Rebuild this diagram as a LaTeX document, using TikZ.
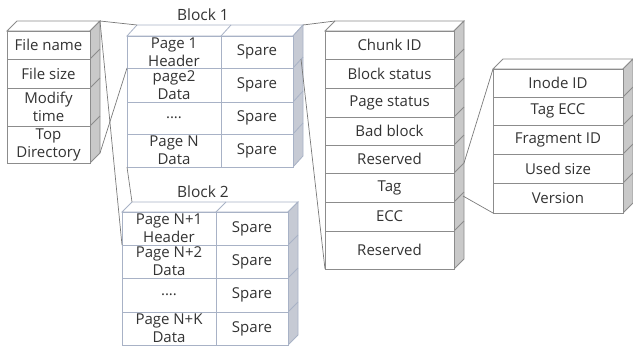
\documentclass[tikz,border=0pt]{standalone}
\usepackage{fontspec}
\setmainfont{Open Sans}
\usetikzlibrary{calc}
\definecolor{edge}{HTML}{8C8C8C}
\definecolor{bedge}{HTML}{A8B2C6}
\definecolor{side}{HTML}{C9C9C9}
\definecolor{bside}{HTML}{C6CAD4}
\definecolor{txt}{HTML}{333333}
\definecolor{conn}{HTML}{7A7A7A}
\tikzset{
  cell/.style={draw=edge, fill=white, line width=0.8pt, inner sep=0pt, outer sep=0pt,
    anchor=north west},
  bcell/.style={cell, draw=bedge},
  celltext/.style={align=center, text=txt, inner sep=0pt, outer sep=0pt,
    font=\fontsize{15}{18}\selectfont},
  sideface/.style={fill=side, draw=edge, line width=0.8pt},
  bsideface/.style={fill=bside, draw=bedge, line width=0.8pt},
  topface/.style={fill=white, draw=edge, line width=0.8pt},
  btopface/.style={fill=white, draw=bedge, line width=0.8pt},
  link/.style={draw=conn, line width=0.7pt},
  lbl/.style={text=txt, font=\fontsize{15.5}{18}\selectfont}
}
\newcommand\cellbox[7]{\node[#1, minimum width=#5pt, minimum height=#6pt,
  label={[celltext]center:{#7}}] (#2) at (#3,#4) {};}
\begin{document}
\begin{tikzpicture}[x=1pt,y=-1pt]
\useasboundingbox (0,0) rectangle (633,349);

% ---------- File stack ----------
\filldraw[topface] (7,31) -- (17,21) -- (100,21) -- (90,31) -- cycle;
\filldraw[sideface] (90,31) -- (100,21) -- (100,153) -- (90,163) -- cycle;
\foreach \y in {59,88,126} \draw[draw=edge, line width=0.8pt] (90,\y) -- (100,\y-10);
\cellbox{cell}{f1}{7}{31}{83}{28}{File name}
\cellbox{cell}{f2}{7}{59}{83}{29}{File size}
\cellbox{cell}{f3}{7}{88}{83}{38}{Modify\\time}
\cellbox{cell}{f4}{7}{126}{83}{37}{Top\\Directory}
\coordinate (ftopback) at ($(f1.north east)+(10,-10)$);
\coordinate (fbotback) at ($(f4.south east)+(10,-10)$);

% ---------- Block 1 ----------
\node[lbl] (blk1) at (203,15) {Block 1};
\filldraw[btopface] (127,36) -- (137,25) -- (303,25) -- (293,36) -- cycle;
\draw[draw=bedge, line width=0.8pt] (221,36) -- (231,25);
\filldraw[bsideface] (293,36) -- (303,25) -- (303,156) -- (293,167) -- cycle;
\foreach \y in {68,102,134} \draw[draw=bedge, line width=0.8pt] (293,\y) -- (303,\y-11);
\cellbox{bcell}{b1l1}{127}{36}{94}{32}{Page 1\\Header}
\cellbox{bcell}{b1r1}{221}{36}{72}{32}{Spare}
\cellbox{bcell}{b1l2}{127}{68}{94}{34}{page2\\Data}
\cellbox{bcell}{b1r2}{221}{68}{72}{34}{Spare}
\cellbox{bcell}{b1l3}{127}{102}{94}{32}{....}
\cellbox{bcell}{b1r3}{221}{102}{72}{32}{Spare}
\cellbox{bcell}{b1l4}{127}{134}{94}{33}{Page N\\Data}
\cellbox{bcell}{b1r4}{221}{134}{72}{33}{Spare}
\coordinate (b1topleft) at ($(b1l1.north west)+(10,-11)$);
\coordinate (b1topright) at ($(b1r1.north east)+(10,-11)$);
\coordinate (b1sparebot) at ($(b1r1.south east)+(8,-9)$);

% ---------- Block 2 ----------
\node[lbl] (blk2) at (203,192) {Block 2};
\filldraw[btopface] (122,212) -- (132,202) -- (298,202) -- (288,212) -- cycle;
\draw[draw=bedge, line width=0.8pt] (216,212) -- (226,202);
\filldraw[bsideface] (288,212) -- (298,202) -- (298,335) -- (288,345) -- cycle;
\foreach \y in {245,278,312} \draw[draw=bedge, line width=0.8pt] (288,\y) -- (298,\y-10);
\cellbox{bcell}{b2l1}{122}{212}{94}{33}{Page N+1\\Header}
\cellbox{bcell}{b2r1}{216}{212}{72}{33}{Spare}
\cellbox{bcell}{b2l2}{122}{245}{94}{33}{Page N+2\\Data}
\cellbox{bcell}{b2r2}{216}{245}{72}{33}{Spare}
\cellbox{bcell}{b2l3}{122}{278}{94}{34}{....}
\cellbox{bcell}{b2r3}{216}{278}{72}{34}{Spare}
\cellbox{bcell}{b2l4}{122}{312}{94}{33}{Page N+K\\Data}
\cellbox{bcell}{b2r4}{216}{312}{72}{33}{Spare}
\coordinate (b2topleft) at ($(b2l1.north west)+(10,-10)$);

% ---------- Spare (chunk) stack ----------
\filldraw[topface] (325,31) -- (335,21) -- (464,21) -- (454,31) -- cycle;
\filldraw[sideface] (454,31) -- (464,21) -- (464,259) -- (454,269) -- cycle;
\foreach \y in {59,88,117,145,173,202,231} \draw[draw=edge, line width=0.8pt] (454,\y) -- (464,\y-10);
\cellbox{cell}{c1}{325}{31}{129}{28}{Chunk ID}
\cellbox{cell}{c2}{325}{59}{129}{29}{Block status}
\cellbox{cell}{c3}{325}{88}{129}{29}{Page status}
\cellbox{cell}{c4}{325}{117}{129}{28}{Bad block}
\cellbox{cell}{c5}{325}{145}{129}{28}{Reserved}
\cellbox{cell}{c6}{325}{173}{129}{29}{Tag}
\cellbox{cell}{c7}{325}{202}{129}{29}{ECC}
\cellbox{cell}{c8}{325}{231}{129}{38}{Reserved}
\coordinate (ctopleft) at ($(c1.north west)+(10,-10)$);
\coordinate (ctagtop) at ($(c6.north east)+(10,-10)$);
\coordinate (ctagbot) at ($(c6.south east)+(9,-6)$);

% ---------- Tag stack ----------
\filldraw[topface] (493,69) -- (503,59) -- (633,59) -- (623,69) -- cycle;
\filldraw[sideface] (623,69) -- (633,59) -- (633,203) -- (623,213) -- cycle;
\foreach \y in {97,125,154,183} \draw[draw=edge, line width=0.8pt] (623,\y) -- (633,\y-10);
\cellbox{cell}{t1}{493}{69}{130}{28}{Inode ID}
\cellbox{cell}{t2}{493}{97}{130}{28}{Tag ECC}
\cellbox{cell}{t3}{493}{125}{130}{29}{Fragment ID}
\cellbox{cell}{t4}{493}{154}{130}{29}{Used size}
\cellbox{cell}{t5}{493}{183}{130}{30}{Version}

% ---------- Connectors ----------
\draw[link] (ftopback) -- (b1topleft);
\draw[link] (ftopback) -- (b2l1.south west);
\draw[link] (fbotback) -- (b1l1.south west);
\draw[link] (b1l4.south west) -- (b2topleft);
\draw[link] (b1topright) -- (ctopleft);
\draw[link] (b1sparebot) -- (c8.south west);
\draw[link] (ctagtop) -- (t1.north west);
\draw[link] (ctagbot) -- (t5.south west);
\end{tikzpicture}
\end{document}
